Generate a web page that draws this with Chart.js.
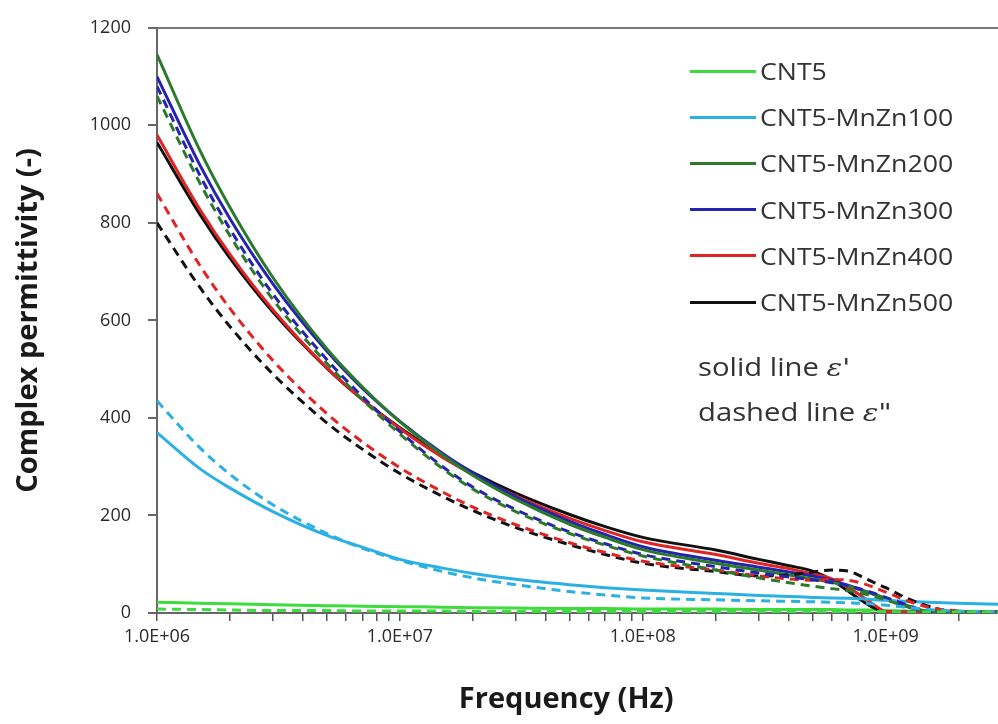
<!DOCTYPE html>
<html>
<head>
<meta charset="utf-8">
<script src="https://cdn.jsdelivr.net/npm/chart.js@4"></script>
<style>
  body { margin: 0; background: #fff; }
  #wrap { position: relative; width: 998px; height: 724px; }
  .leg-line { position: absolute; left: 690px; width: 66px; height: 3px; }
  .leg-text { position: absolute; left: 760px; font-family: "Open Sans", sans-serif; font-size: 23px; color: #333;
              transform: scaleX(1.16); transform-origin: left center; line-height: 24px; white-space: nowrap; }
  .note { position: absolute; left: 698px; font-family: "Open Sans", sans-serif; font-size: 25px; color: #333;
          line-height: 28px; white-space: nowrap; transform: scaleX(1.17); transform-origin: left center; }
</style>
</head>
<body>
<div id="wrap">
  <canvas id="chart" width="998" height="724"></canvas>
</div>
<script>
// frequences (Hz)
const freq = [1e6, 1.5e6, 2e6, 3e6, 5e6, 7e6, 1e7, 1.5e7, 2e7, 3e7, 5e7, 7e7, 1e8, 2e8, 3e8, 4e8, 5e8, 6e8, 7e8, 8e8, 9e8, 1e9, 1.2e9, 1.5e9, 2e9, 3e9];

// eps' (trait plein) et eps'' (pointille) pour chaque echantillon
const cnt5_re   = [22, 20, 19, 17, 15, 14, 13, 12, 11, 10, 9, 9, 8, 8, 7, 7, 7, 7, 6, 6, 6, 5, 4, 3, 3, 3];
const cnt5_im   = [8, 7, 6, 5, 5, 4, 4, 4, 3, 3, 3, 3, 3, 3, 3, 3, 3, 3, 3, 3, 3, 3, 2, 2, 2, 2];
const mz100_re  = [370, 296, 256, 208, 159, 135, 110, 92, 81, 69, 58, 52, 47, 40, 36, 34, 32, 31, 30, 29, 27, 26, 24, 22, 20, 18];
const mz100_im  = [435, 339, 284, 222, 163, 133, 108, 85, 72, 58, 44, 37, 31, 27, 25, 24, 23, 22, 21, 20, 18, 16, 12, 7, 4, 3];
const mz200_re  = [1145, 949, 831, 688, 542, 464, 392, 324, 282, 233, 182, 155, 130, 102, 88, 78, 70, 63, 55, 46, 38, 30, 17, 3, 2, 2];
const mz200_im  = [1060, 882, 773, 643, 512, 438, 367, 296, 254, 208, 163, 139, 117, 88, 72, 62, 55, 50, 46, 40, 34, 27, 14, 3, 2, 2];
const mz300_re  = [1100, 919, 808, 675, 537, 461, 393, 327, 287, 238, 188, 161, 136, 108, 94, 84, 76, 67, 57, 47, 38, 30, 15, 3, 2, 2];
const mz300_im  = [1080, 898, 787, 654, 520, 444, 372, 300, 258, 212, 166, 142, 120, 95, 82, 74, 68, 62, 56, 48, 40, 32, 18, 4, 2, 2];
const mz400_re  = [980, 828, 735, 622, 503, 438, 378, 319, 284, 240, 194, 169, 146, 120, 102, 91, 80, 70, 52, 34, 16, 3, 2, 2, 2, 2];
const mz400_im  = [860, 713, 624, 518, 409, 351, 298, 248, 217, 181, 144, 124, 106, 88, 76, 70, 67, 69, 67, 61, 52, 43, 27, 12, 4, 2];
const mz500_re  = [965, 818, 727, 617, 502, 438, 380, 323, 288, 246, 202, 177, 155, 129, 110, 97, 86, 68, 45, 25, 10, 2, 2, 2, 2, 2];
const mz500_im  = [800, 668, 587, 490, 390, 336, 286, 239, 210, 175, 140, 120, 102, 85, 76, 78, 84, 88, 86, 74, 62, 52, 32, 14, 2, 2];

const names  = ['CNT5', 'CNT5-MnZn100', 'CNT5-MnZn200', 'CNT5-MnZn300', 'CNT5-MnZn400', 'CNT5-MnZn500'];
const colors = ['#3cdc3c', '#2ab0e2', '#2b7a2b', '#2424b0', '#e02424', '#111111'];
const realParts = [cnt5_re, mz100_re, mz200_re, mz300_re, mz400_re, mz500_re];
const imagParts = [cnt5_im, mz100_im, mz200_im, mz300_im, mz400_im, mz500_im];

const yTicks = [0, 200, 400, 600, 800, 1000, 1200];
const decades = [1e6, 1e7, 1e8, 1e9];
const mult = [1, 2, 3, 4, 5, 6, 7, 8, 9];

function sci(v) { // 1.0E+06
    const e = Math.round(Math.log10(v));
    return (v / Math.pow(10, e)).toFixed(1) + 'E+' + String(e).padStart(2, '0');
}

function pts(arr) { return freq.map((f, i) => ({x: f, y: arr[i]})); }

const datasets = [];
// pointilles d'abord, traits pleins par dessus
names.forEach((n, i) => {
    datasets.push({label: n + ' e2', data: pts(imagParts[i]), borderColor: colors[i], borderWidth: 3,
        borderDash: [9, 6], pointRadius: 0, cubicInterpolationMode: 'monotone', fill: false});
});
names.forEach((n, i) => {
    datasets.push({label: n, data: pts(realParts[i]), borderColor: colors[i], borderWidth: 3,
        pointRadius: 0, cubicInterpolationMode: 'monotone', fill: false});
});
// CNT5 tout en haut
datasets.push(datasets.splice(6, 1)[0]);

const tickFont = {family: 'Open Sans', size: 18};
const titleFont = {family: 'Open Sans', size: 29, weight: 'bold'};

new Chart(document.getElementById('chart'), {
    type: 'line',
    data: {datasets: datasets},
    options: {
        responsive: false,
        animation: false,
        layout: {padding: {top: 23, right: 0, bottom: 0, left: 0}},
        plugins: {legend: {display: false}, tooltip: {enabled: false}},
        scales: {
            x: {
                type: 'logarithmic',
                min: 1e6, max: 2.9e9,
                afterBuildTicks: s => {
                    const t = [];
                    decades.forEach(d => mult.forEach(m => { if (d * m <= 2.9e9) t.push({value: d * m}); }));
                    s.ticks = t;
                },
                afterFit: s => { s.height = 111; },
                ticks: {
                    autoSkip: false, maxRotation: 0, padding: 5, color: '#2a2a2a', font: tickFont,
                    callback: v => decades.includes(v) ? sci(v) : ''
                },
                grid: {drawOnChartArea: false, tickLength: 8, tickColor: '#555', lineWidth: 1.5},
                border: {color: '#666', width: 2},
                title: {display: true, text: 'Frequency (Hz)   ', color: '#1a1a1a',
                    font: titleFont, padding: {top: 0, bottom: 7}}
            },
            y: {
                min: 0, max: 1200,
                afterBuildTicks: s => { s.ticks = yTicks.map(v => ({value: v})); },
                afterFit: s => { s.width = 157; },
                ticks: {padding: 17, color: '#2a2a2a', font: tickFont, callback: v => String(v)},
                grid: {
                    color: c => (c.tick && c.tick.value === 1200) ? '#7a7a7a' : 'rgba(0,0,0,0)',
                    tickColor: '#666', tickLength: 9, lineWidth: 2
                },
                border: {color: '#666', width: 2},
                title: {display: true, text: 'Complex permittivity (-)', color: '#1a1a1a',
                    font: titleFont, padding: {top: 11, bottom: 0}}
            }
        }
    }
});

// legende (dans la zone du graphe)
const wrap = document.getElementById('wrap');
const legTop = 71, legStep = 46.2;
names.forEach((n, i) => {
    const y = legTop + i * legStep;
    const line = document.createElement('div');
    line.className = 'leg-line';
    line.style.top = (y - 1.5) + 'px';
    line.style.background = colors[i];
    wrap.appendChild(line);
    const txt = document.createElement('div');
    txt.className = 'leg-text';
    txt.style.top = (y - 12) + 'px';
    txt.textContent = n;
    wrap.appendChild(txt);
});

const notes = [['solid line ', "ε'", 366], ['dashed line ', 'ε"', 411]];
notes.forEach(([a, b, y]) => {
    const d = document.createElement('div');
    d.className = 'note';
    d.style.top = (y - 14) + 'px';
    d.innerHTML = a + '<i style="font-family:\'DejaVu Serif\',serif">' + b + '</i>';
    wrap.appendChild(d);
});
</script>
</body>
</html>
